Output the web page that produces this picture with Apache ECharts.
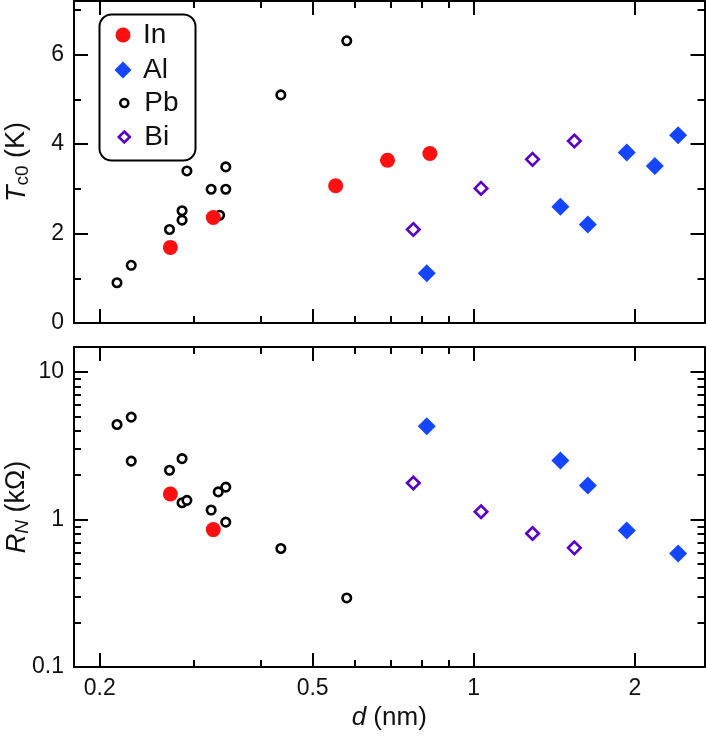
<!doctype html>
<html lang="en">
<head>
<meta charset="UTF-8">
<title>Tc0 and RN vs d</title>
<script src="https://cdn.jsdelivr.net/npm/echarts@6/dist/echarts.min.js"></script>
<style>
  html, body { margin: 0; padding: 0; background: #fff; }
  #main { width: 706px; height: 736px; }
</style>
</head>
<body>
<div id="main"></div>
<script>
// thickness d (nm) and values
var inD  = [0.271, 0.326, 0.552, 0.690, 0.828];
var inTc = [1.69, 2.36, 3.07, 3.64, 3.79];
var alD  = [0.817, 1.452, 1.634, 1.932, 2.18, 2.41];
var alTc = [1.11, 2.60, 2.20, 3.81, 3.51, 4.20];
var pbD  = [0.2154, 0.229, 0.270, 0.285, 0.285, 0.291, 0.323, 0.335, 0.344, 0.344, 0.436, 0.579];
var pbTc = [0.90, 1.29, 2.09, 2.51, 2.30, 3.40, 2.99, 2.41, 3.49, 2.99, 5.10, 6.31];
var biD  = [0.771, 1.032, 1.288, 1.542];
var biTc = [2.09, 3.01, 3.66, 4.07];

var inRnD = [0.271, 0.326];
var inRn  = [1.49, 0.855];
var alRnD = [0.817, 1.452, 1.634, 1.932, 2.41];
var alRn  = [4.30, 2.51, 1.70, 0.842, 0.588];
var pbRnD = [0.2154, 0.229, 0.229, 0.270, 0.285, 0.285, 0.291, 0.323, 0.333, 0.344, 0.344, 0.436, 0.579];
var pbRn  = [4.41, 4.95, 2.49, 2.16, 2.59, 1.30, 1.35, 1.16, 1.54, 1.66, 0.96, 0.636, 0.294];
var biRnD = [0.771, 1.032, 1.288, 1.542];
var biRn  = [1.77, 1.13, 0.804, 0.643];

// tick values
var dMajor = [0.2, 0.5, 1, 2];
var dMinor = [0.3, 0.4, 0.6, 0.7, 0.8, 0.9];
var tcMajor = [0, 2, 4, 6];
var tcMinor = [1, 3, 5, 7];
var rnMajor = [0.1, 1, 10];
var rnMinor = [0.2, 0.3, 0.4, 0.5, 0.6, 0.7, 0.8, 0.9, 2, 3, 4, 5, 6, 7, 8, 9];

function zip(xs, ys) {
  return xs.map(function (x, i) { return [x, ys[i]]; });
}

var FONT = 'Liberation Sans, Arial, sans-serif';
var INK = '#111';

function axis(grid, pos, type, min, max, ticks, len, withLine, labels) {
  return {
    type: type, gridIndex: grid, position: pos, min: min, max: max,
    axisLine: { show: withLine, onZero: false, lineStyle: { color: '#000', width: 2 } },
    axisTick: { show: true, inside: true, length: len, customValues: ticks,
                lineStyle: { color: '#000', width: 2 } },
    axisLabel: { show: !!labels, customValues: labels || undefined, margin: 10,
                 fontFamily: FONT, fontSize: 23, color: INK },
    splitLine: { show: false }
  };
}

var xAxes = [], yAxes = [];
[0, 1].forEach(function (g) {
  xAxes.push(axis(g, 'bottom', 'log', 0.179, 2.7, dMajor, 14, true, g === 1 ? dMajor : null));
  xAxes.push(axis(g, 'bottom', 'log', 0.179, 2.7, dMinor, 7, false));
  xAxes.push(axis(g, 'top', 'log', 0.179, 2.7, dMajor, 14, true));
  xAxes.push(axis(g, 'top', 'log', 0.179, 2.7, dMinor, 7, false));
});
yAxes.push(axis(0, 'left', 'value', 0, 7.2, tcMajor, 14, true, tcMajor));
yAxes.push(axis(0, 'left', 'value', 0, 7.2, tcMinor, 7, false));
yAxes.push(axis(0, 'right', 'value', 0, 7.2, tcMajor, 14, true));
yAxes.push(axis(0, 'right', 'value', 0, 7.2, tcMinor, 7, false));
yAxes.push(axis(1, 'left', 'log', 0.1, 14.8, rnMajor, 14, true, rnMajor));
yAxes.push(axis(1, 'left', 'log', 0.1, 14.8, rnMinor, 7, false));
yAxes.push(axis(1, 'right', 'log', 0.1, 14.8, rnMajor, 14, true));
yAxes.push(axis(1, 'right', 'log', 0.1, 14.8, rnMinor, 7, false));

xAxes[4].name = '{i|d} (nm)';
xAxes[4].nameLocation = 'middle';
xAxes[4].nameGap = 38;
xAxes[4].nameMoveOverlap = false;
xAxes[4].nameTextStyle = { fontFamily: FONT, fontSize: 26, color: INK, rich: { i: { fontStyle: 'italic', fontFamily: FONT, fontSize: 26, color: INK } } };

var nameRich = {
  i: { fontStyle: 'italic', fontFamily: FONT, fontSize: 27, color: INK, lineHeight: 30, verticalAlign: 'middle' },
  s: { fontFamily: FONT, fontSize: 19, color: INK, lineHeight: 30, verticalAlign: 'bottom' },
  si: { fontStyle: 'italic', fontFamily: FONT, fontSize: 19, color: INK, lineHeight: 30, verticalAlign: 'bottom' },
  n: { fontFamily: FONT, fontSize: 27, color: INK, lineHeight: 30, verticalAlign: 'middle' }
};
yAxes[0].name = '{i|T}{s|c0}{n| (K)}';
yAxes[4].name = '{i|R}{si|N}{n| (kΩ)}';
[0, 4].forEach(function (k) {
  yAxes[k].nameLocation = 'middle';
  yAxes[k].nameGap = 42;
  yAxes[k].nameRotate = 90;
  yAxes[k].nameMoveOverlap = false;
  yAxes[k].nameTextStyle = { rich: nameRich };
});

var RED = '#ff1010', BLUE = '#1446ff', PURPLE = '#5a00cc';

var styles = {
  In: { symbol: 'circle', symbolSize: 15, itemStyle: { color: RED, opacity: 1 } },
  Al: { symbol: 'diamond', symbolSize: 18, itemStyle: { color: BLUE, opacity: 1 } },
  Pb: { symbol: 'circle', symbolSize: 8.5, itemStyle: { color: '#fff', borderColor: '#000', borderWidth: 2.6, opacity: 1 } },
  Bi: { symbol: 'diamond', symbolSize: 12.5, itemStyle: { color: '#fff', borderColor: PURPLE, borderWidth: 2.6, opacity: 1 } }
};

function scatter(name, data, panel) {
  var st = styles[name];
  return {
    name: name, type: 'scatter', data: data,
    xAxisIndex: panel * 4, yAxisIndex: panel * 4,
    symbol: st.symbol, symbolSize: st.symbolSize, itemStyle: st.itemStyle,
    emphasis: { disabled: true }
  };
}

var series = [
  scatter('Pb', zip(pbD, pbTc), 0),
  scatter('Bi', zip(biD, biTc), 0),
  scatter('Al', zip(alD, alTc), 0),
  scatter('In', zip(inD, inTc), 0),
  scatter('Pb', zip(pbRnD, pbRn), 1),
  scatter('Bi', zip(biRnD, biRn), 1),
  scatter('Al', zip(alRnD, alRn), 1),
  scatter('In', zip(inRnD, inRn), 1)
];

// one legend per entry so each icon keeps its own size;
// icons centred on x=123, text starting at x=143
var legendRows = [
  { name: 'In', cy: 35, w: 15, icon: 'circle', bw: 0 },
  { name: 'Al', cy: 70, w: 17, icon: 'diamond', bw: 0 },
  { name: 'Pb', cy: 103, w: 8, icon: 'circle', bw: 2.6 },
  { name: 'Bi', cy: 137, w: 11, icon: 'diamond', bw: 2.6 }
];
var legends = legendRows.map(function (r) {
  return {
    data: [{ name: r.name, icon: r.icon }],
    left: 123 - r.w / 2, top: r.cy - 16, padding: 0,
    itemWidth: r.w, itemHeight: r.w,
    itemStyle: { borderWidth: r.bw, opacity: 1 },
    selectedMode: false,
    textStyle: { fontFamily: FONT, fontSize: 28, color: INK, lineHeight: 32,
                 padding: [0, 0, 0, 15 - r.w / 2] }
  };
});

var chart = echarts.init(document.getElementById('main'));
chart.setOption({
  animation: false,
  grid: [
    { left: 74, right: 1.5, top: 1, height: 322, outerBoundsMode: 'none' },
    { left: 74, right: 1.5, top: 347, height: 320, outerBoundsMode: 'none' }
  ],
  xAxis: xAxes,
  yAxis: yAxes,
  legend: legends,
  graphic: [{
    type: 'rect', left: 97, top: 12, z: 100,
    shape: { width: 96, height: 146, r: 12 },
    style: { fill: 'none', stroke: '#000', lineWidth: 2 }
  }],
  series: series
});
</script>
</body>
</html>
